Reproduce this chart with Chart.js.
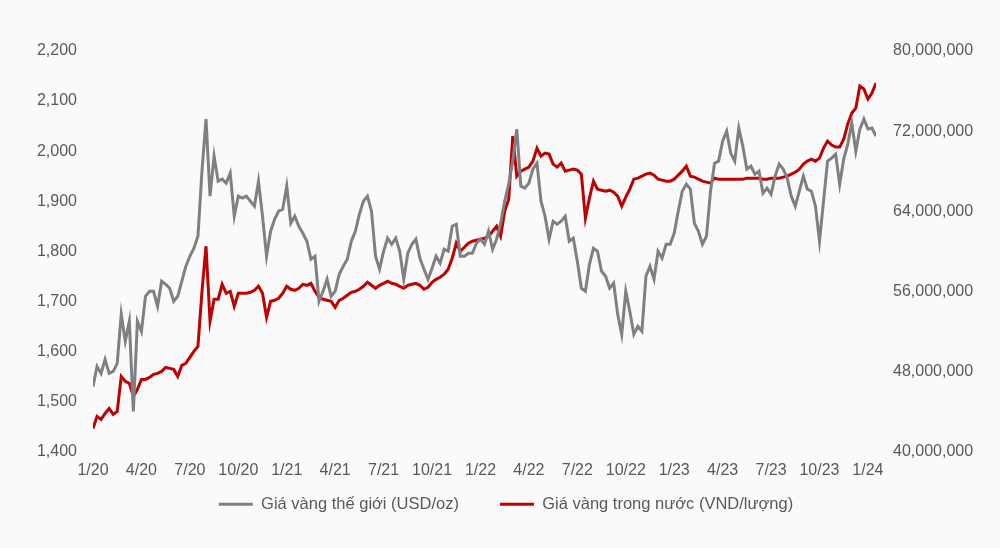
<!DOCTYPE html>
<html>
<head>
<meta charset="utf-8">
<script src="https://cdn.jsdelivr.net/npm/chart.js@4.4.1/dist/chart.umd.min.js"></script>
<style>
  html, body { margin: 0; padding: 0; background: #fafafa; }
  #wrap { width: 1000px; height: 548px; }
</style>
</head>
<body>
<div id="wrap"><canvas id="goldChart" width="1000" height="548"></canvas></div>
<script>
// x tick labels, one every 3 months starting 1/2020
var tickLabels = ['1/20','4/20','7/20','10/20','1/21','4/21','7/21','10/21','1/22',
                  '4/22','7/22','10/22','1/23','4/23','7/23','10/23','1/24'];
var monthsPerPoint = 0.25; // roughly weekly readings

// Giá vàng thế giới (USD/oz)
var worldPrice = [
  1530,1570,1556,1584,1556,1560,1576,1674,1620,1660,
  1480,1660,1640,1710,1720,1720,1690,1740,1734,1726,
  1700,1710,1740,1770,1790,1806,1830,1960,2064,1910,
  1990,1940,1944,1936,1956,1870,1910,1906,1910,1900,
  1890,1940,1870,1790,1840,1864,1880,1884,1930,1856,
  1870,1850,1836,1820,1784,1790,1700,1720,1744,1710,
  1720,1754,1770,1784,1820,1840,1874,1900,1910,1880,
  1790,1764,1800,1826,1814,1826,1800,1744,1796,1814,
  1824,1786,1764,1744,1766,1790,1776,1804,1800,1850,
  1854,1790,1790,1796,1796,1816,1824,1814,1840,1804,
  1824,1856,1900,1934,1980,2044,1930,1926,1936,1964,
  1976,1900,1870,1824,1860,1854,1860,1870,1820,1826,
  1780,1726,1720,1774,1806,1800,1760,1750,1726,1736,
  1674,1634,1720,1680,1634,1650,1640,1750,1770,1744,
  1800,1786,1814,1814,1836,1880,1920,1934,1924,1856,
  1840,1814,1830,1920,1976,1980,2020,2040,1996,1980,
  2046,2010,1964,1970,1954,1960,1916,1926,1914,1950,
  1974,1964,1946,1910,1890,1920,1950,1924,1920,1890,
  1820,1900,1980,1986,1994,1934,1984,2014,2056,2000,
  2044,2064,2044,2046,2030
];

// Giá vàng trong nước (triệu VND/lượng)
var domesticPrice = [
  42.3,43.5,43.2,43.8,44.3,43.7,44.0,47.5,47.0,46.8,
  45.5,46.2,47.2,47.2,47.4,47.7,47.8,48.0,48.4,48.3,
  48.2,47.5,48.6,48.8,49.4,50.0,50.5,56.0,60.5,53.0,
  55.2,55.2,56.7,55.8,56.0,54.5,55.8,55.8,55.8,55.9,
  56.1,56.5,55.8,53.4,55.0,55.1,55.3,55.8,56.5,56.2,
  56.1,56.3,56.7,56.6,56.8,56.0,55.4,55.2,55.1,55.0,
  54.4,55.1,55.3,55.6,55.9,56.0,56.2,56.5,56.9,56.6,
  56.3,56.6,56.8,57.0,56.8,56.7,56.5,56.3,56.6,56.7,
  56.8,56.6,56.2,56.4,56.9,57.2,57.4,57.7,58.2,59.3,
  60.8,60.0,60.4,60.8,61.0,61.1,61.2,61.3,61.5,62.0,
  62.5,61.5,64.0,65.2,71.5,67.5,68.0,68.2,68.4,69.0,
  70.3,69.5,69.8,69.7,68.7,68.4,68.8,68.0,68.1,68.2,
  68.1,67.7,63.3,65.3,67.0,66.2,66.1,66.0,66.1,65.9,
  65.5,64.5,65.4,66.2,67.2,67.3,67.5,67.7,67.8,67.6,
  67.2,67.1,67.0,67.0,67.2,67.6,68.0,68.5,67.5,67.4,
  67.2,67.0,66.9,66.8,67.3,67.2,67.2,67.2,67.2,67.2,
  67.2,67.2,67.3,67.3,67.3,67.3,67.2,67.2,67.3,67.3,
  67.3,67.4,67.5,67.7,67.9,68.2,68.7,69.0,69.2,69.0,
  69.3,70.3,71.0,70.6,70.4,70.4,71.2,72.7,73.8,74.3,
  76.5,76.2,75.2,75.8,76.8
];

var fontFamily = '"Liberation Sans", Arial, sans-serif';
var textColor = '#595959';

// the legend's label padding also adds space above it, so pull it up under the axis
// (and nudge it a little right, like the original)
var legendShift = {
  id: 'legendShift',
  afterLayout: function (chart) {
    var lg = chart.legend;
    var dy = lg.top - 455;
    lg.top -= dy;
    lg.bottom -= dy;
    lg.left += 6;
    lg.right += 6;
  }
};

var ctx = document.getElementById('goldChart').getContext('2d');
var goldChart = new Chart(ctx, {
  type: 'line',
  plugins: [legendShift],
  data: {
    datasets: [{
      label: 'Giá vàng thế giới (USD/oz)',
      data: worldPrice.map(function (v, i) { return { x: i * monthsPerPoint, y: v }; }),
      borderColor: '#808080',
      backgroundColor: '#808080',
      borderWidth: 3,
      pointRadius: 0,
      tension: 0,
      yAxisID: 'yLeft'
    }, {
      label: 'Giá vàng trong nước (VND/lượng)',
      data: domesticPrice.map(function (v, i) { return { x: i * monthsPerPoint, y: v * 1e6 }; }),
      borderColor: '#c00000',
      backgroundColor: '#c00000',
      borderWidth: 3,
      pointRadius: 0,
      tension: 0,
      yAxisID: 'yRight'
    }]
  },
  options: {
    responsive: false,
    animation: false,
    layout: { padding: { top: 51, bottom: 0, left: 0, right: 0 } },
    scales: {
      x: {
        type: 'linear',
        min: 0,
        max: 48.5,
        grid: { display: false, drawTicks: false },
        border: { display: false },
        afterFit: function (scale) { scale.height = 29; },
        afterBuildTicks: function (scale) {
          scale.ticks = tickLabels.map(function (t, k) { return { value: k * 3 }; });
        },
        ticks: {
          autoSkip: false,
          maxRotation: 0,
          padding: 9,
          color: textColor,
          font: { size: 16, family: fontFamily },
          callback: function (v) { return tickLabels[Math.round(v / 3)]; }
        }
      },
      yLeft: {
        position: 'left',
        min: 1400,
        max: 2200,
        grid: { display: false, drawTicks: false },
        border: { display: false },
        afterFit: function (scale) { scale.width = 93; },
        ticks: {
          stepSize: 100,
          padding: 16,
          color: textColor,
          font: { size: 16, family: fontFamily },
          callback: function (v) { return v.toLocaleString('en-US'); }
        }
      },
      yRight: {
        position: 'right',
        min: 40000000,
        max: 80000000,
        grid: { display: false, drawTicks: false },
        border: { display: false },
        afterFit: function (scale) { scale.width = 124; },
        ticks: {
          stepSize: 8000000,
          padding: 17,
          color: textColor,
          font: { size: 16, family: fontFamily },
          callback: function (v) { return v.toLocaleString('en-US'); }
        }
      }
    },
    plugins: {
      tooltip: { enabled: false },
      legend: {
        position: 'bottom',
        labels: {
          usePointStyle: true,
          pointStyle: 'line',
          pointStyleWidth: 34,
          padding: 41,
          color: textColor,
          font: { size: 16.5, family: fontFamily }
        }
      }
    }
  }
});
</script>
</body>
</html>
